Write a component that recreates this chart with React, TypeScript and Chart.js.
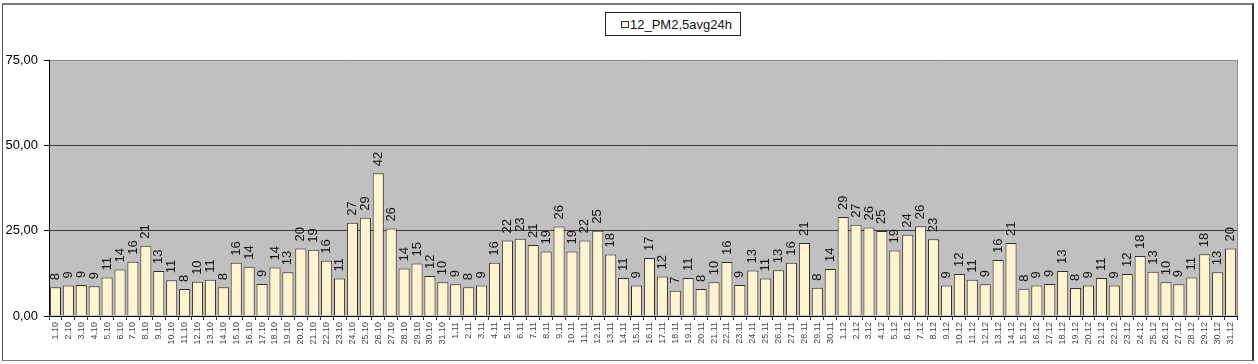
import React, { useEffect, useRef } from 'react';
import { Chart, registerables } from 'chart.js';

Chart.register(...registerables);

const seriesName = '12_PM2,5avg24h';

const octLabels = ['1.10','2.10','3.10','4.10','5.10','6.10','7.10','8.10','9.10','10.10','11.10','12.10','13.10','14.10','15.10','16.10','17.10','18.10','19.10','20.10','21.10','22.10','23.10','24.10','25.10','26.10','27.10','28.10','29.10','30.10','31.10'];
const novLabels = ['1.11','2.11','3.11','4.11','5.11','6.11','7.11','8.11','9.11','10.11','11.11','12.11','13.11','14.11','15.11','16.11','17.11','18.11','19.11','20.11','21.11','22.11','23.11','24.11','25.11','26.11','27.11','28.11','29.11','30.11'];
const decLabels = ['1.12','2.12','3.12','4.12','5.12','6.12','7.12','8.12','9.12','10.12','11.12','12.12','13.12','14.12','15.12','16.12','17.12','18.12','19.12','20.12','21.12','22.12','23.12','24.12','25.12','26.12','27.12','28.12','29.12','30.12','31.12'];

const octValues = [8.4, 8.9, 9.1, 8.7, 11.3, 13.6, 15.9, 20.6, 13.2, 10.5, 7.9, 10.0, 10.6, 8.4, 15.6, 14.4, 9.4, 14.2, 12.8, 19.8, 19.4, 16.2, 11.0, 27.3, 28.8, 41.8, 25.6, 13.9, 15.4, 11.7, 9.9];
const novValues = [9.3, 8.4, 8.9, 15.6, 22.1, 22.6, 20.8, 18.9, 26.2, 18.9, 22.1, 25.0, 18.0, 11.1, 8.9, 17.0, 11.6, 7.4, 11.1, 7.9, 9.9, 15.8, 9.1, 13.3, 11.0, 13.4, 15.6, 21.4, 8.3, 13.8];
const decValues = [29.0, 26.7, 25.9, 24.9, 19.2, 23.8, 26.3, 22.5, 8.9, 12.3, 10.6, 9.3, 16.4, 21.4, 8.0, 8.9, 9.4, 13.2, 8.2, 8.9, 11.1, 8.9, 12.3, 17.6, 13.0, 9.9, 9.3, 11.3, 18.1, 12.8, 19.8];

const categories = [...octLabels, ...novLabels, ...decLabels];
const values = [...octValues, ...novValues, ...decValues];

const yMin = 0;
const yMax = 75;
const yStep = 25;

const FONT = '"Liberation Sans", Arial, sans-serif';

const plotBgPlugin = {
  id: 'plotBg',
  beforeDraw(chart: any) {
    const { ctx, chartArea } = chart;
    const { left, top, right, bottom } = chartArea;
    ctx.save();
    ctx.fillStyle = '#C0C0C0';
    ctx.fillRect(left, top, right - left, bottom - top);
    ctx.strokeStyle = '#8a8a8a';
    ctx.lineWidth = 1;
    ctx.beginPath();
    ctx.moveTo(right + 0.5, top);
    ctx.lineTo(right + 0.5, bottom);
    ctx.stroke();
    ctx.restore();
  },
};

const valueLabelPlugin = {
  id: 'valueLabels',
  afterDatasetsDraw(chart: any) {
    const { ctx } = chart;
    const meta = chart.getDatasetMeta(0);
    const data = chart.data.datasets[0].data as number[];
    ctx.save();
    ctx.fillStyle = '#111';
    ctx.font = `13px ${FONT}`;
    ctx.textAlign = 'left';
    ctx.textBaseline = 'middle';
    meta.data.forEach((bar: any, i: number) => {
      ctx.save();
      ctx.translate(bar.x, bar.y - 7);
      ctx.rotate(-Math.PI / 2);
      ctx.fillText(String(Math.round(data[i])), 0, 0);
      ctx.restore();
    });
    ctx.restore();
  },
};

export default function App() {
  const canvasRef = useRef<HTMLCanvasElement | null>(null);

  useEffect(() => {
    if (!canvasRef.current) return;
    const chart = new Chart(canvasRef.current, {
      type: 'bar',
      data: {
        labels: categories,
        datasets: [
          {
            label: seriesName,
            data: values,
            backgroundColor: '#FFF4CE',
            borderColor: '#2e2e2e',
            borderWidth: 1,
            barPercentage: 0.86,
            categoryPercentage: 1,
          },
        ],
      },
      options: {
        responsive: false,
        animation: false,
        layout: { padding: { left: 0, top: 60, right: 21, bottom: 0 } },
        plugins: {
          legend: { display: false },
          tooltip: { enabled: false },
        },
        scales: {
          x: {
            offset: true,
            afterFit(scale: any) {
              scale.height = 48;
            },
            border: { display: true, color: '#000', width: 1 },
            grid: {
              offset: true,
              drawOnChartArea: false,
              drawTicks: true,
              tickLength: 4,
              color: '#333',
            },
            ticks: {
              autoSkip: false,
              minRotation: 90,
              maxRotation: 90,
              padding: 2,
              color: '#444',
              font: { family: FONT, size: 9 },
            },
          },
          y: {
            min: yMin,
            max: yMax,
            afterFit(scale: any) {
              scale.width = 49;
            },
            border: { display: true, color: '#000', width: 1 },
            grid: {
              color: (ctx: any) => {
                const v = ctx.tick ? ctx.tick.value : 0;
                if (v === yMax) return '#8a8a8a';
                if (v === 0) return '#000';
                return '#3c3c3c';
              },
              tickColor: '#000',
              tickLength: 5,
              drawTicks: true,
            },
            ticks: {
              stepSize: yStep,
              padding: 6,
              color: '#000',
              font: { family: FONT, size: 13 },
              callback: (v: any) => Number(v).toFixed(2).replace('.', ','),
            },
          },
        },
      },
      plugins: [plotBgPlugin, valueLabelPlugin],
    });
    return () => chart.destroy();
  }, []);

  return (
    <div
      style={{
        position: 'fixed',
        left: 0,
        top: 0,
        width: 1258,
        height: 364,
        background: '#fff',
        overflow: 'hidden',
      }}
    >
      <canvas
        ref={canvasRef}
        width={1258}
        height={364}
        style={{ position: 'absolute', left: 0, top: 0, width: 1258, height: 364 }}
      />
      <div
        style={{
          position: 'absolute',
          left: 2,
          top: 3,
          width: 1252,
          height: 358,
          boxSizing: 'border-box',
          borderTop: '2px solid #7a7a7a',
          borderLeft: '1px solid #555',
          borderRight: '2px solid #333',
          borderBottom: '1px solid #7a7a7a',
          pointerEvents: 'none',
        }}
      />
      <div
        style={{
          position: 'absolute',
          left: 605,
          top: 12,
          width: 136,
          height: 24,
          boxSizing: 'border-box',
          border: '1px solid #222',
          background: '#fff',
          display: 'flex',
          alignItems: 'center',
          fontFamily: FONT,
          fontSize: 13,
          color: '#111',
        }}
      >
        <span
          style={{
            display: 'inline-block',
            width: 6,
            height: 5,
            marginLeft: 15,
            marginRight: 1,
            background: '#FFF4CE',
            border: '1px solid #333',
          }}
        />
        <span>{seriesName}</span>
      </div>
    </div>
  );
}
